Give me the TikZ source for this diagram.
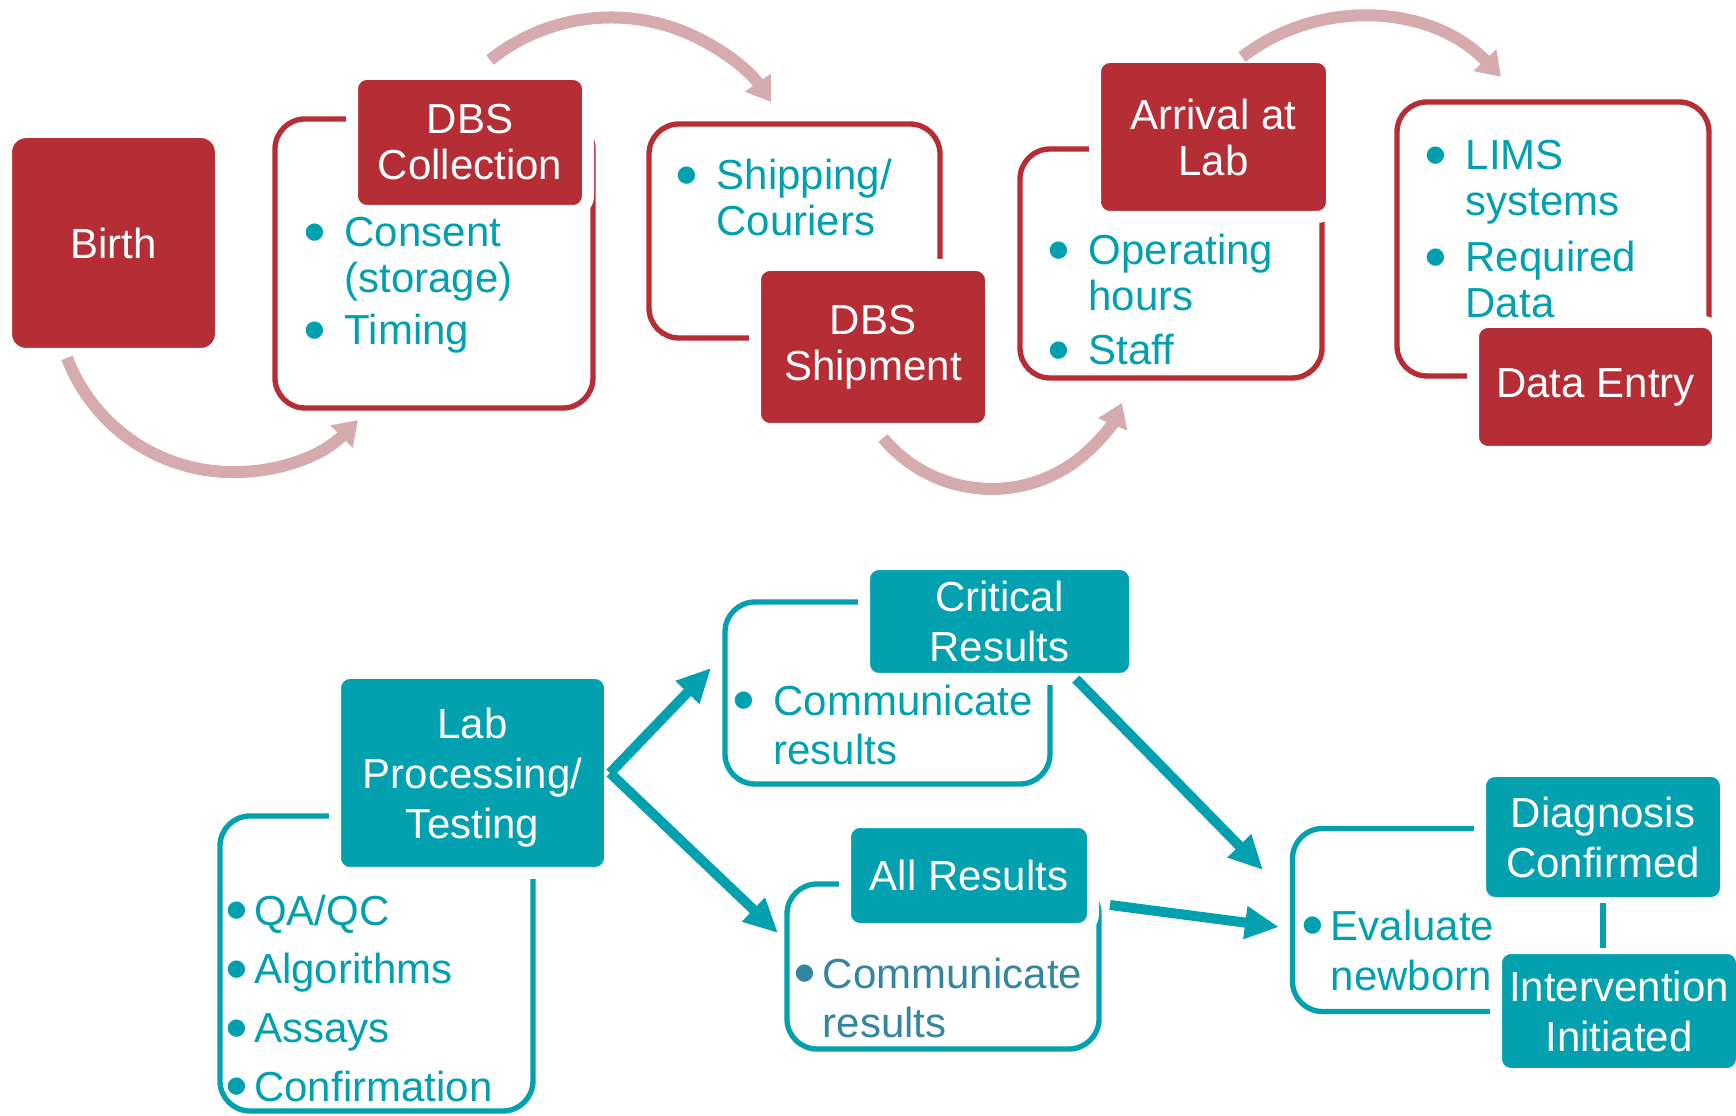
\documentclass[tikz,border=0pt]{standalone}
\usepackage{fontspec}
\setmainfont{Liberation Sans}
\newfontfamily\dotfont{DejaVu Sans}
\usepackage{xcolor}
\usepackage{tikz}
\usetikzlibrary{arrows.meta, positioning}

\definecolor{dbsred}{RGB}{181,45,53}
\definecolor{labteal}{RGB}{3,161,175}
\definecolor{flowpink}{RGB}{214,171,173}
\definecolor{noteteal}{RGB}{0,160,176}
\definecolor{noteblue}{RGB}{52,134,160}

\newcommand{\bul}{\makebox[0.35em][c]{\raisebox{2.5pt}{\dotfont\fontsize{6.8}{0}\selectfont\char"25CF}}}
\newcommand{\itemlist}[2]{\begin{tabular}[t]{@{}l@{\hspace{#1}}l@{}}#2\end{tabular}}

\begin{document}
\begin{tikzpicture}[x=0.3pt, y=-0.3pt,
    redbox/.style={fill=dbsred, draw=white, line width=3.6pt, rounded corners=4.5pt, outer sep=0pt,
        inner sep=0pt, text=white, align=center, font=\fontsize{12.6}{13.8}\selectfont},
    tealbox/.style={fill=labteal, draw=white, line width=3.6pt, rounded corners=4.5pt, outer sep=0pt,
        inner sep=0pt, text=white, align=center, font=\fontsize{12.6}{15}\selectfont},
    redframe/.style={draw=dbsred, line width=1.6pt, rounded corners=9pt, inner sep=0pt},
    tealframe/.style={draw=labteal, line width=1.6pt, rounded corners=9pt, inner sep=0pt},
    toplist/.style={text=noteteal, anchor=base west, inner sep=0pt, font=\fontsize{12.6}{13.8}\selectfont},
    lowlist/.style={text=noteteal, anchor=base west, inner sep=0pt, font=\fontsize{12.6}{15}\selectfont},
    flow/.style={draw=flowpink, line width=3.6pt, -{Triangle[length=7pt, width=9pt]}},
    push/.style={draw=labteal, line width=3pt, -{Triangle[length=10.2pt, width=9.3pt]}}]
    \useasboundingbox (0,0) rectangle (1736,1116);

    % collection to data entry
    \node[redbox, minimum width=64.5pt, minimum height=66.6pt, rounded corners=6pt] (birth) at (113.5,243) {Birth};

    \node[redframe, minimum width=95.4pt, minimum height=86.7pt] (collframe) at (434,263.5) {};
    \node[redbox, minimum width=70.8pt, minimum height=41.1pt] (coll) at (470,142.5) {DBS\\Collection};
    \node[toplist] (collnote) at (306.6,247) {\itemlist{6.8pt}{\bul & Consent\\ & (storage)\\[1.8pt] \bul & Timing}};

    \node[redframe, minimum width=87.3pt, minimum height=64.2pt] (shipframe) at (794.5,231) {};
    \node[redbox, minimum width=70.8pt, minimum height=49.2pt] (ship) at (873,347) {DBS\\Shipment};
    \node[toplist] (shipnote) at (678.6,190) {\itemlist{6.8pt}{\bul & Shipping/\\ & Couriers}};

    \node[redframe, minimum width=90.6pt, minimum height=68.7pt] (arrframe) at (1171,263.5) {};
    \node[redbox, minimum width=71.1pt, minimum height=48pt] (arrival) at (1213.5,137) {Arrival at\\Lab};
    \node[toplist] (arrnote) at (1050.6,265) {\itemlist{6.8pt}{\bul & Operating\\ & hours\\[2.4pt] \bul & Staff}};

    \node[redframe, minimum width=93.6pt, minimum height=82.2pt] (limsframe) at (1553,239) {};
    \node[redbox, minimum width=73.5pt, minimum height=39pt] (entry) at (1595.5,387) {Data Entry};
    \node[toplist] (limsnote) at (1427.6,170) {\itemlist{6.8pt}{\bul & LIMS\\ & systems\\[3pt] \bul & Required\\ & Data}};

    \coordinate (f1) at (67,358);
    \coordinate (f2) at (490,60);
    \coordinate (f3) at (883,438);
    \coordinate (f4) at (1242,57);
    \foreach \p/\a/\b/\r in {f1/159.1/45/177.3, f2/-128.7/-34.3/193.6, f3/140.2/23.1/141.5, f4/-127.5/-43.7/194.5} {
        \draw[flow] (\p) arc[start angle=\a, end angle=\b, radius=\r];
    }

    % testing to follow-up
    \node[tealframe, minimum width=93.9pt, minimum height=88.5pt] (testframe) at (376.5,963.5) {};
    \node[tealbox, minimum width=82.5pt, minimum height=60pt, text depth=0pt] (lab) at (472.5,773) {Lab\\Processing/\\Testing};
    \node[lowlist] (labnote) at (228.6,925) {\itemlist{3.1pt}{\bul & QA/QC\\[2.6pt] \bul & Algorithms\\[2.6pt] \bul & Assays\\[2.6pt] \bul & Confirmation}};

    \node[tealframe, minimum width=97.5pt, minimum height=54.6pt] (critframe) at (887.5,693) {};
    \node[tealbox, minimum width=81.3pt, minimum height=34.5pt] (crit) at (999.5,621.5) {Critical\\Results};
    \node[lowlist] (critnote) at (735.6,715) {\itemlist{6.8pt}{\bul & Communicate\\ & results}};

    \node[tealframe, minimum width=93.6pt, minimum height=49.5pt] (allframe) at (943,966.5) {};
    \node[tealbox, minimum width=74.4pt, minimum height=32.1pt] (allres) at (969,875.5) {All Results};
    \node[lowlist, text=noteblue] (allnote) at (796.6,988) {\itemlist{3.3pt}{\bul & Communicate\\ & results}};

    \draw[tealframe] (1479,828.5) -- (1292.5,828.5) -- (1292.5,1011.5) -- (1495,1011.5);
    \node[tealbox, minimum width=73.8pt, minimum height=39.6pt] (diag) at (1603,837) {Diagnosis\\Confirmed};
    \node[tealbox, minimum width=73.8pt, minimum height=37.8pt] (interv) at (1619,1011) {Intervention\\Initiated};
    \node[lowlist] (evalnote) at (1304.6,940) {\itemlist{3.2pt}{\bul & Evaluate\\ & newborn}};
    \draw[labteal, line width=1.6pt] (diag.south) -- (diag.south |- interv.north);

    \coordinate (critin) at (711,668);
    \coordinate (allin) at (778,933);
    \coordinate (evalcrit) at (1263,870);
    \coordinate (allout) at (1110,905);
    \coordinate (evalall) at (1279,927);
    \draw[push] (lab.east) -- (critin);
    \draw[push] (lab.east) -- (allin);
    \draw[push] (crit.-37) -- (evalcrit);
    \draw[push] (allout) -- (evalall);
\end{tikzpicture}
\end{document}
